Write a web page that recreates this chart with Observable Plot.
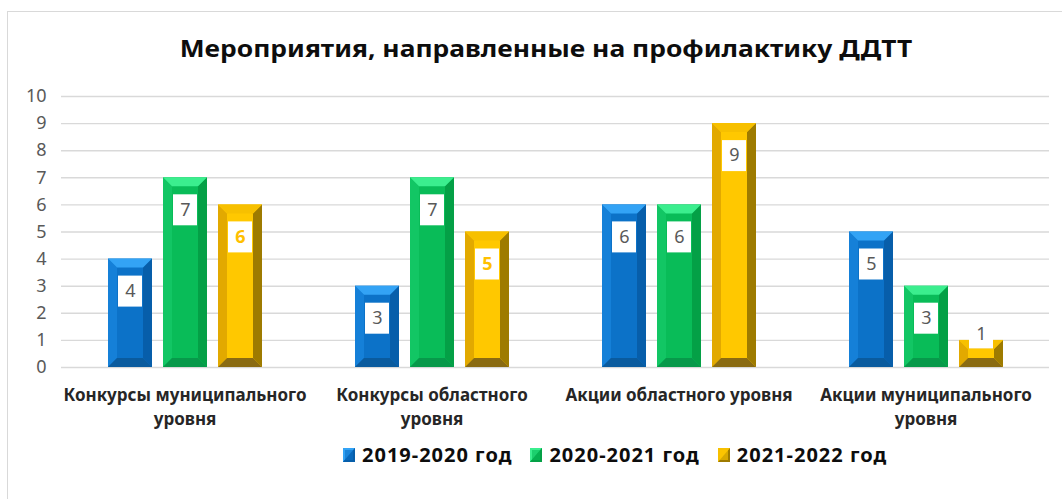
<!DOCTYPE html>
<html>
<head>
<meta charset="utf-8">
<script src="https://cdn.jsdelivr.net/npm/d3@7"></script>
<script src="https://cdn.jsdelivr.net/npm/@observablehq/plot@0.6"></script>
<style>
  html, body { margin: 0; padding: 0; background: #fff; }
  body { width: 1062px; height: 499px; position: relative; overflow: hidden; font-family: "Noto Sans", sans-serif; }
  #frame { position: absolute; left: 7px; top: 11px; width: 1200px; height: 700px; border: 1.5px solid #D9D9D9; box-sizing: border-box; }
  #title { position: absolute; left: 0; width: 1092px; top: 31px; text-align: center; font-weight: bold; font-size: 24px; color: #0d0d0d; white-space: nowrap; }
  #title span { display: inline-block; transform: scaleX(1.1); transform-origin: center; }
  #chart { position: absolute; left: 0; top: 80px; }
  #legend { position: absolute; left: 343px; top: 441px; display: flex; align-items: center; font-weight: bold; font-size: 20px; letter-spacing: 1px; color: #0d0d0d; white-space: nowrap; }
  #legend .item { display: flex; align-items: center; margin-right: 18px; }
  #legend svg { margin-right: 7px; }
</style>
</head>
<body>
<div id="frame"></div>
<div id="title"><span>Мероприятия, направленные на профилактику ДДТТ</span></div>
<div id="chart"></div>
<div id="legend"></div>
<script>
// ---- data ----
const categories = [
  "Конкурсы муниципального уровня",
  "Конкурсы областного уровня",
  "Акции областного уровня",
  "Акции муниципального уровня"
];
const series = ["2019-2020 год", "2020-2021 год", "2021-2022 год"];
const values2019_2020 = [4, 3, 6, 5];
const values2020_2021 = [7, 7, 6, 3];
const values2021_2022 = [6, 5, 9, 1];
const yTicks = [0, 1, 2, 3, 4, 5, 6, 7, 8, 9, 10];

// ---- styles ----
const palette = {
  "2019-2020 год": { face: "#0C72C8", left: "#1580D8", right: "#075EAA", top: "#33A3F5", bottom: "#0A5B9E" },
  "2020-2021 год": { face: "#09BC58", left: "#12C664", right: "#04A046", top: "#3BEE8E", bottom: "#07994A" },
  "2021-2022 год": { face: "#FFC800", left: "#E2A900", right: "#9E7B00", top: "#F7C000", bottom: "#8A6B12" }
};
const goldLabelCats = new Set([categories[0], categories[1]]);
const goldLabelSeries = series[2];

const allValues = [values2019_2020, values2020_2021, values2021_2022];
const data = categories.flatMap((c, i) =>
  series.map((s, j) => ({ category: c, series: s, value: allValues[j][i] }))
);

function wrap(label, maxChars = 24) {
  const words = label.split(" ");
  const lines = [];
  let cur = "";
  for (const w of words) {
    const t = cur ? cur + " " + w : w;
    if (t.length > maxChars && cur) { lines.push(cur); cur = w; } else cur = t;
  }
  if (cur) lines.push(cur);
  return lines.join("\n");
}

const svgNS = "http://www.w3.org/2000/svg";
function bevelRender(index, scales, values, dimensions, context, next) {
  const g = next(index, scales, values, dimensions, context);
  const rects = Array.from(g.querySelectorAll("rect"));
  rects.forEach((r, k) => {
    const d = data[index[k]];
    if (!d) return;
    const p = palette[d.series];
    const x = +r.getAttribute("x"), y = +r.getAttribute("y");
    const w = +r.getAttribute("width"), h = +r.getAttribute("height");
    const b = Math.min(9, w / 2, h / 2);
    r.setAttribute("fill", p.face);
    const polys = [
      [p.left, [[x, y], [x + b, y + b], [x + b, y + h - b], [x, y + h]]],
      [p.right, [[x + w, y], [x + w - b, y + b], [x + w - b, y + h - b], [x + w, y + h]]],
      [p.top, [[x, y], [x + w, y], [x + w - b, y + b], [x + b, y + b]]],
      [p.bottom, [[x, y + h], [x + w, y + h], [x + w - b, y + h - b], [x + b, y + h - b]]]
    ];
    for (const [fill, pts] of polys) {
      const poly = document.createElementNS(svgNS, "polygon");
      poly.setAttribute("points", pts.map(q => q.join(",")).join(" "));
      poly.setAttribute("fill", fill);
      r.parentNode.appendChild(poly);
    }
  });
  return g;
}

const isGold = d => d.series === goldLabelSeries && goldLabelCats.has(d.category);

const chart = Plot.plot({
  width: 1062,
  height: 365,
  marginLeft: 60,
  marginRight: 13,
  marginTop: 16,
  marginBottom: 78,
  style: { fontFamily: "Noto Sans, sans-serif", fontSize: "18px", color: "#595959", background: "transparent" },
  fx: { domain: categories, padding: 0, axis: null, label: null },
  x: { domain: series, paddingInner: 0.2, paddingOuter: 0.82, axis: null },
  y: { domain: [0, 10], ticks: yTicks, tickSize: 0, tickPadding: 15, label: null, tickFormat: d => String(d) },
  color: { domain: series, range: series.map(s => palette[s].face) },
  marks: [
    Plot.ruleY(yTicks, { stroke: "#D9D9D9", strokeWidth: 1.4 }),
    Plot.barY(data, { fx: "category", x: "series", y: "value", fill: "series", render: bevelRender }),
    Plot.tickY(data, { fx: "category", x: "series", y: "value", filter: d => d.value >= 2, stroke: "white", strokeWidth: 31, insetLeft: 10, insetRight: 10, dy: 32 }),
    Plot.tickY(data, { fx: "category", x: "series", y: "value", filter: d => d.value < 2, stroke: "white", strokeWidth: 28, insetLeft: 10, insetRight: 10, dy: -6 }),
    Plot.text(data, { fx: "category", x: "series", y: "value", filter: d => d.value >= 2 && !isGold(d), text: d => String(d.value), dy: 32, fill: "#595959", fontSize: 18 }),
    Plot.text(data, { fx: "category", x: "series", y: "value", filter: d => d.value >= 2 && isGold(d), text: d => String(d.value), dy: 32, fill: "#FFC000", fontWeight: "bold", fontSize: 18 }),
    Plot.text(data, { fx: "category", x: "series", y: "value", filter: d => d.value < 2, text: d => String(d.value), dy: -6, fill: "#595959", fontSize: 18 }),
    Plot.text(categories, { fx: d => d, text: d => wrap(d), frameAnchor: "bottom", dy: 17, lineAnchor: "top", lineHeight: 1.38, fontWeight: "bold", fontSize: 17, fill: "#262626" })
  ]
});
document.getElementById("chart").appendChild(chart);

// ---- legend ----
const legend = document.getElementById("legend");
series.forEach(s => {
  const p = palette[s];
  const item = document.createElement("div");
  item.className = "item";
  item.innerHTML = `<svg width="12" height="14" viewBox="0 0 12 14"><rect width="12" height="14" fill="${p.face}"/><polygon points="0,0 12,0 0,14" fill="${p.top}"/><polygon points="12,0 12,14 0,14" fill="${p.right}"/><rect x="2" y="2" width="8" height="10" fill="${p.face}" opacity="0.6"/></svg><span>${s}</span>`;
  legend.appendChild(item);
});
</script>
</body>
</html>
